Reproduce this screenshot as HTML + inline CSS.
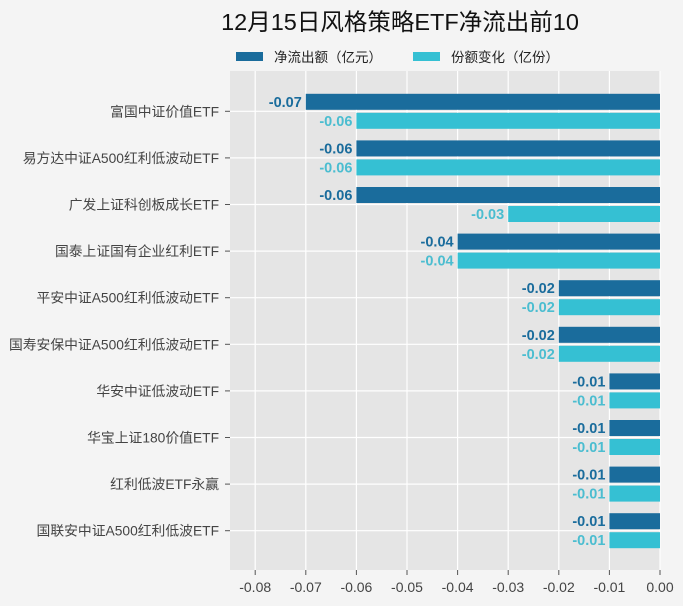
<!DOCTYPE html>
<html><head><meta charset="utf-8"><style>
body{margin:0;background:#f4f4f4;overflow:hidden;}
svg{display:block;}
svg text{font-family:"Liberation Sans","Noto Sans CJK SC",sans-serif;}
</style></head><body>
<svg width="683" height="606" xmlns="http://www.w3.org/2000/svg">
<rect width="683" height="606" fill="#f4f4f4"/>
<text x="400" y="30" font-size="23.5" text-anchor="middle" fill="#111">12月15日风格策略ETF净流出前10</text>
<rect x="236" y="52" width="27" height="9" fill="#1a6c9c"/>
<text x="274" y="62" font-size="13.5" fill="#222">净流出额（亿元）</text>
<rect x="413" y="52" width="27" height="9" fill="#35c0d3"/>
<text x="451" y="62" font-size="13.5" fill="#222">份额变化（亿份）</text>
<rect x="230" y="71" width="430" height="499" fill="#e5e5e5"/>
</svg>
<script>
const ns="http://www.w3.org/2000/svg",svg=document.querySelector('svg');
function el(t,a,txt){const e=document.createElementNS(ns,t);for(const k in a)e.setAttribute(k,a[k]);if(txt!==undefined)e.textContent=txt;svg.appendChild(e);return e;}
const X=v=>660+v*5060;
for(let i=0;i<=8;i++){const x=X(-i/100);el('line',{x1:x,x2:x,y1:71,y2:570,stroke:'#fff','stroke-width':1.2});
el('line',{x1:x,x2:x,y1:570,y2:575,stroke:'#555'});
el('text',{x:x,y:592,'font-size':14,'text-anchor':'middle',fill:'#444'},i==0?'0.00':'-0.0'+i);}
const d=[["富国中证价值ETF",-0.07,-0.06],["易方达中证A500红利低波动ETF",-0.06,-0.06],["广发上证科创板成长ETF",-0.06,-0.03],["国泰上证国有企业红利ETF",-0.04,-0.04],["平安中证A500红利低波动ETF",-0.02,-0.02],["国寿安保中证A500红利低波动ETF",-0.02,-0.02],["华安中证低波动ETF",-0.01,-0.01],["华宝上证180价值ETF",-0.01,-0.01],["红利低波ETF永赢",-0.01,-0.01],["国联安中证A500红利低波ETF",-0.01,-0.01]];
d.forEach((r,i)=>{const c=111.3+i*46.6;
el('line',{x1:230,x2:660,y1:c,y2:c,stroke:'#fff','stroke-width':1.2});
el('line',{x1:225,x2:230,y1:c,y2:c,stroke:'#555'});
el('text',{x:219,y:c+5,'font-size':13.8,'text-anchor':'end',fill:'#444'},r[0]);
el('rect',{x:X(r[1]),y:c-17.5,width:660-X(r[1]),height:16,fill:'#1a6c9c'});
el('rect',{x:X(r[2]),y:c+1.5,width:660-X(r[2]),height:16,fill:'#35c0d3'});
el('text',{x:X(r[1])-4,y:c-4.5,'font-size':14.5,'font-weight':'bold','text-anchor':'end',fill:'#1a6c9c'},r[1].toFixed(2));
el('text',{x:X(r[2])-4,y:c+14.5,'font-size':14.5,'font-weight':'bold','text-anchor':'end',fill:'#4bbdd0'},r[2].toFixed(2));
});
</script>
</body></html>
